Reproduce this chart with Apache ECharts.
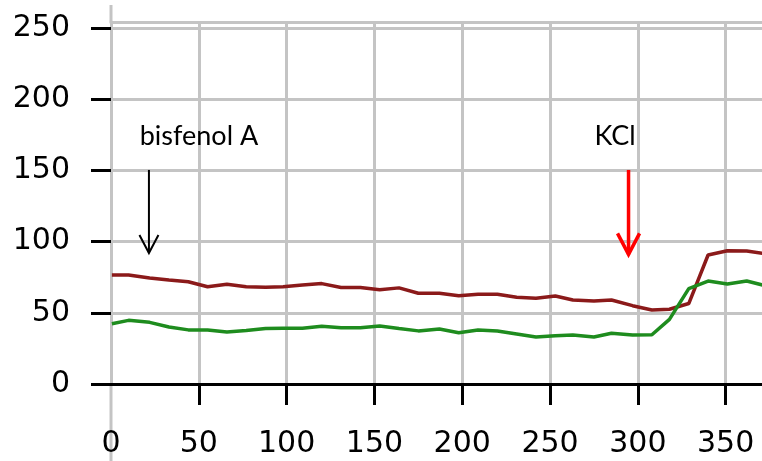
<!DOCTYPE html>
<html><head><meta charset="utf-8">
<script src="https://cdn.jsdelivr.net/npm/echarts@6/dist/echarts.min.js"></script>
<style>html,body{margin:0;padding:0;background:#fff}#c{width:762px;height:461px}</style>
</head><body><div id="c"></div>
<script>
const xValues = [0.5, 10, 22, 33, 44, 55, 66, 77, 88, 98, 109, 120, 131, 142, 153, 164, 175, 187, 198, 209, 220, 231, 242, 253, 263, 275, 285, 297, 308, 318, 329, 340, 351, 362, 371];
const redValues = [76.5, 76.5, 74.5, 73, 71.8, 68.3, 70, 68.3, 68, 68.3, 69.5, 70.5, 67.8, 67.8, 66.2, 67.5, 63.7, 63.7, 62, 63, 63, 60.9, 60.2, 61.8, 59, 58.2, 59, 55, 52, 52.5, 56.5, 90.6, 93.6, 93.4, 91.8];
const greenValues = [42.3, 44.7, 43.3, 40, 38, 37.9, 36.5, 37.5, 39, 39.1, 39.1, 40.5, 39.5, 39.5, 40.8, 39, 37.3, 38.6, 36, 37.9, 37.2, 35.1, 33, 33.9, 34.4, 33, 35.6, 34.4, 34.6, 45.4, 67, 72.3, 70.2, 72.3, 69.5];
const xTicks = [0, 50, 100, 150, 200, 250, 300, 350];
const xTickMarks = [50, 100, 150, 200, 250, 300, 350];
const yTicks = [0, 50, 100, 150, 200, 250];
const annotationLabels = ['bisfenol A', 'KCl'];
const annotationLabelX = [50.1, 287];
const annotationLabelY = [174, 174];
const annotationArrowX = [21.6, 294.7];
const annotationArrowTop = [150.3, 150.3];
const annotationArrowBottom = [92, 91];

const GRAY = '#c4c4c4';
const chart = echarts.init(document.getElementById('c'), null, {renderer: 'canvas'});

const annData = annotationLabels.map((t, i) => [annotationArrowX[i], annotationArrowTop[i], annotationArrowBottom[i], annotationLabelX[i], annotationLabelY[i], i]);
const annStyles = [
  {color: '#000000', width: 2, wing: 9.5, head: 18},
  {color: '#ff0000', width: 3.5, wing: 11, head: 21}
];

chart.setOption({
  animation: false,
  backgroundColor: '#ffffff',
  grid: {left: 111, right: 0, top: 22, bottom: 77, containLabel: false},
  xAxis: [{
    type: 'value', min: 0, max: 370.7, interval: 50,
    axisLine: {show: true, lineStyle: {color: '#000', width: 3}},
    axisTick: {show: true, length: 21, lineStyle: {color: '#000', width: 3}, customValues: xTickMarks},
    axisLabel: {customValues: xTicks, margin: 45, fontFamily: 'DejaVu Sans', fontSize: 30, color: '#000'},
    splitLine: {show: true, lineStyle: {color: GRAY, width: 3}}
  }, {
    type: 'value', position: 'top', min: 0, max: 370.7,
    axisLine: {show: true, lineStyle: {color: GRAY, width: 3}},
    axisTick: {show: false}, axisLabel: {show: false}, splitLine: {show: false}
  }],
  yAxis: {
    type: 'value', min: 0, max: 254.2, interval: 50,
    axisLine: {show: true, lineStyle: {color: GRAY, width: 3}},
    axisTick: {show: true, length: 20, lineStyle: {color: '#000', width: 3}, customValues: yTicks},
    axisLabel: {customValues: yTicks, margin: 41, fontFamily: 'DejaVu Sans', fontSize: 30, color: '#000'},
    splitLine: {show: true, lineStyle: {color: GRAY, width: 3}}
  },
  graphic: [
    {type: 'line', z: -1, shape: {x1: 111, y1: 5, x2: 111, y2: 22}, style: {stroke: GRAY, lineWidth: 3}},
    {type: 'line', z: -1, shape: {x1: 111, y1: 386, x2: 111, y2: 461}, style: {stroke: GRAY, lineWidth: 3}}
  ],
  series: [
    {type: 'line', data: xValues.map((x, i) => [x, redValues[i]]), showSymbol: false, symbol: 'none',
     lineStyle: {color: '#8b1a1a', width: 3.5}, z: 3},
    {type: 'line', data: xValues.map((x, i) => [x, greenValues[i]]), showSymbol: false, symbol: 'none',
     lineStyle: {color: '#1e8c1e', width: 3.5}, z: 3},
    {type: 'custom', data: annData, z: 5, clip: false,
     renderItem: function (params, api) {
       const i = api.value(5);
       const st = annStyles[i];
       const pTop = api.coord([api.value(0), api.value(1)]);
       const pBot = api.coord([api.value(0), api.value(2)]);
       const pTxt = api.coord([api.value(3), api.value(4)]);
       return {type: 'group', children: [
         {type: 'line', shape: {x1: pTop[0], y1: pTop[1], x2: pBot[0], y2: pBot[1]}, style: {stroke: st.color, lineWidth: st.width}},
         {type: 'polyline', shape: {points: [[pBot[0] - st.wing, pBot[1] - st.head], [pBot[0], pBot[1]], [pBot[0] + st.wing, pBot[1] - st.head]]},
          style: {stroke: st.color, lineWidth: st.width, fill: null}},
         {type: 'text', x: pTxt[0], y: pTxt[1], style: {text: annotationLabels[i], fill: '#000', font: '27px Lato', align: 'center', verticalAlign: 'middle'}}
       ]};
     }}
  ]
});
</script>
</body></html>
